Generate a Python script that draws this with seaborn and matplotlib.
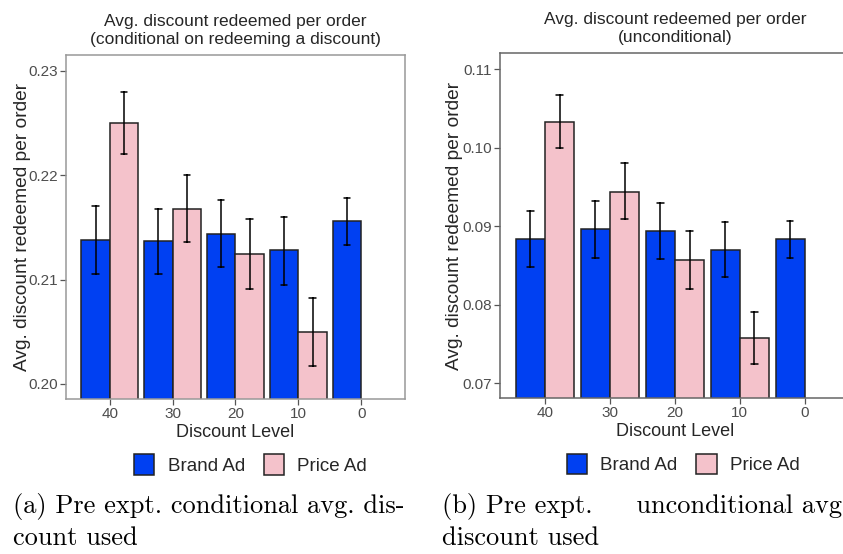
import numpy as np
import pandas as pd
import seaborn as sns
import matplotlib.pyplot as plt

# discount levels and ad groups
levels = ["40", "30", "20", "10", "0"]
groups = ["Brand Ad", "Price Ad"]

# (a) conditional on redeeming a discount: mean, lower, upper
cond_brand = [0.2138, 0.2137, 0.2144, 0.2128, 0.2156]
cond_brand_lo = [0.2105, 0.2105, 0.2112, 0.2095, 0.2133]
cond_brand_hi = [0.2170, 0.2168, 0.2176, 0.2160, 0.2178]
cond_price = [0.2250, 0.2168, 0.2124, 0.2050]
cond_price_lo = [0.2220, 0.2136, 0.2091, 0.2017]
cond_price_hi = [0.2280, 0.2200, 0.2158, 0.2082]

# (b) unconditional
unc_brand = [0.0884, 0.0896, 0.0894, 0.0870, 0.0884]
unc_brand_lo = [0.0848, 0.0860, 0.0858, 0.0835, 0.0860]
unc_brand_hi = [0.0919, 0.0932, 0.0930, 0.0905, 0.0907]
unc_price = [0.1033, 0.0944, 0.0857, 0.0758]
unc_price_lo = [0.0999, 0.0909, 0.0820, 0.0725]
unc_price_hi = [0.1067, 0.0980, 0.0894, 0.0791]

palette = {"Brand Ad": "#0040F2", "Price Ad": "#F4C2CB"}


def long_frame(brand, blo, bhi, price, plo, phi):
    # three rows per bar (mean, lower, upper): median -> bar, min/max -> error bar
    rows = []
    for grp, m, lo, hi in [("Brand Ad", brand, blo, bhi), ("Price Ad", price, plo, phi)]:
        for i in range(len(m)):
            for v in (lo[i], m[i], hi[i]):
                rows.append({"level": levels[i], "group": grp, "value": v})
    return pd.DataFrame(rows)


def draw(ax, df, ylim, yticks, title, border, leg_x, ylab_x):
    sns.barplot(data=df, x="level", y="value", hue="group", order=levels,
                hue_order=groups, palette=palette, estimator="median",
                errorbar=lambda v: (v.min(), v.max()), width=0.9, capsize=0.2,
                err_kws={"color": "black", "linewidth": 1.1},
                edgecolor="#222222", linewidth=1.1, saturation=1, ax=ax)
    ax.set_xlim(-0.695, 4.695)
    ax.set_ylim(*ylim)
    ax.set_yticks(yticks)
    ax.set_yticklabels([f"{t:.2f}" for t in yticks])
    ax.set_title(title, fontsize=12.5, pad=8, linespacing=1.25)
    ax.set_xlabel("Discount Level", fontsize=13, labelpad=2)
    ax.set_ylabel("Avg. discount redeemed per order", fontsize=13.8)
    ax.yaxis.set_label_coords(ylab_x, 0.5)
    ax.tick_params(axis="both", labelsize=11, colors="#555555", labelcolor="#4D4D4D",
                   length=4.3, width=0.9, pad=1.5, bottom=True, left=True)
    for s in ax.spines.values():
        s.set_color(border)
        s.set_linewidth(1.1)
    ax.legend_.remove()
    handles = [plt.Rectangle((0, 0), 1, 1, facecolor=palette[g], edgecolor="#222222",
                             linewidth=1.1) for g in groups]
    ax.legend(handles, groups, loc="center", bbox_to_anchor=(leg_x, -0.19),
              ncol=2, frameon=False, fontsize=13.5, handlelength=1.1,
              handleheight=1.3, handletextpad=0.7, columnspacing=1.0)


sns.set_theme(style="white")
plt.rcParams["font.family"] = ["Liberation Sans", "DejaVu Sans"]

fig = plt.figure(figsize=(8.43, 5.54), dpi=100)
ax1 = fig.add_axes([0.0783, 0.2798, 0.4021, 0.6209])
ax2 = fig.add_axes([0.5931, 0.281, 0.415, 0.6227])

draw(ax1, long_frame(cond_brand, cond_brand_lo, cond_brand_hi,
                     cond_price, cond_price_lo, cond_price_hi),
     (0.19856, 0.2315), [0.20, 0.21, 0.22, 0.23],
     "Avg. discount redeemed per order\n(conditional on redeeming a discount)", "#999999",
     0.544, -0.103)
draw(ax2, long_frame(unc_brand, unc_brand_lo, unc_brand_hi,
                     unc_price, unc_price_lo, unc_price_hi),
     (0.06809, 0.1120), [0.07, 0.08, 0.09, 0.10, 0.11],
     "Avg. discount redeemed per order\n(unconditional)", "#666666", 0.524, -0.106)

# LaTeX-style subfigure captions (the right one runs past the page edge, as in the source)
cap = dict(family="cmr10", fontsize=19, color="black", va="center", ha="left")
fig.text(13 / 843, 1 - 507 / 554, "(a) Pre expt. conditional avg. dis-", **cap)
fig.text(13 / 843, 1 - 538 / 554, "count used", **cap)
fig.text(442 / 843, 1 - 507 / 554, "(b) Pre expt.     unconditional avg.", **cap)
fig.text(442 / 843, 1 - 538 / 554, "discount used", **cap)

fig.savefig("out.png", dpi=100)
